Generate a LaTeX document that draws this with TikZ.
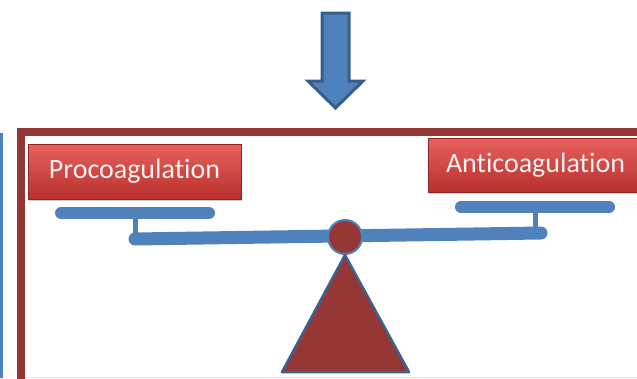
\documentclass[tikz,border=0pt]{standalone}
\usepackage{fontspec}
\setmainfont[Ligatures=NoCommon]{Carlito}
\usetikzlibrary{shadows}
\definecolor{framered}{HTML}{953735}
\definecolor{boxtop}{HTML}{E8615E}
\definecolor{boxbot}{HTML}{B8302C}
\definecolor{steel}{HTML}{4F81BD}
\definecolor{steeldark}{HTML}{385D8A}
\tikzset{
  labelbox/.style={rectangle, top color=boxtop, bottom color=boxbot, draw=boxbot!80!black, line width=0.6,
    drop shadow={shadow xshift=1pt, shadow yshift=-2pt, opacity=0.4},
    text=white!95!black, font=\fontsize{28}{32}\selectfont, minimum height=55, inner sep=0pt},
  bar/.style={line width=12, line cap=round, draw=steel},
  post/.style={line width=5, draw=steel},
}
\begin{document}
\begin{tikzpicture}[x=1pt,y=-1pt]
\useasboundingbox (0,0) rectangle (637,378);
\begin{scope}
\clip (0,0) rectangle (637,378);
% left blue rule
\fill[steel] (0,133) rectangle (3,378);
% frame
\draw[framered, line width=8] (21,131.5) rectangle (660,400);
\draw[red!15, line width=1] (25,377) -- (637,377);
% pointer arrow
\draw[fill=steel, draw=steeldark, line width=3, line join=miter]
  (322,13) -- (349,13) -- (349,81) -- (363,81) -- (335.5,108) -- (308,81) -- (322,81) -- cycle;
% label boxes
\node[labelbox, minimum width=213] (pro) at (134.5,171.5) {Procoagulation};
\node[labelbox, minimum width=215, minimum height=54] (anti) at (535.5,165) {Anticoagulation};
% balance
\coordinate (panLa) at (61,213);
\coordinate (panLb) at (209,213);
\coordinate (postL) at (135,213);
\coordinate (beamL) at (135,239);
\coordinate (beamR) at (541,233);
\coordinate (panRa) at (461,207);
\coordinate (panRb) at (609,207);
\coordinate (postR) at (535,207);
\coordinate (postRb) at (535,233.2);
\draw[post] (postL) -- ++(0,26);
\draw[post] (postR) -- (postRb);
\draw[bar] (panLa) -- (panLb);
\draw[bar] (panRa) -- (panRb);
\draw[line width=13, draw=steel, line cap=round] (beamL) -- (beamR);
\node[circle, fill=framered, draw=steel, line width=2, minimum size=34, inner sep=0pt] (pivot) at (345,237) {};
\draw[fill=framered, draw=steeldark!90!steel, line width=2.5, line join=round]
  (345,255) -- (409,372) -- (282,372) -- cycle;
\end{scope}
\end{tikzpicture}
\end{document}
